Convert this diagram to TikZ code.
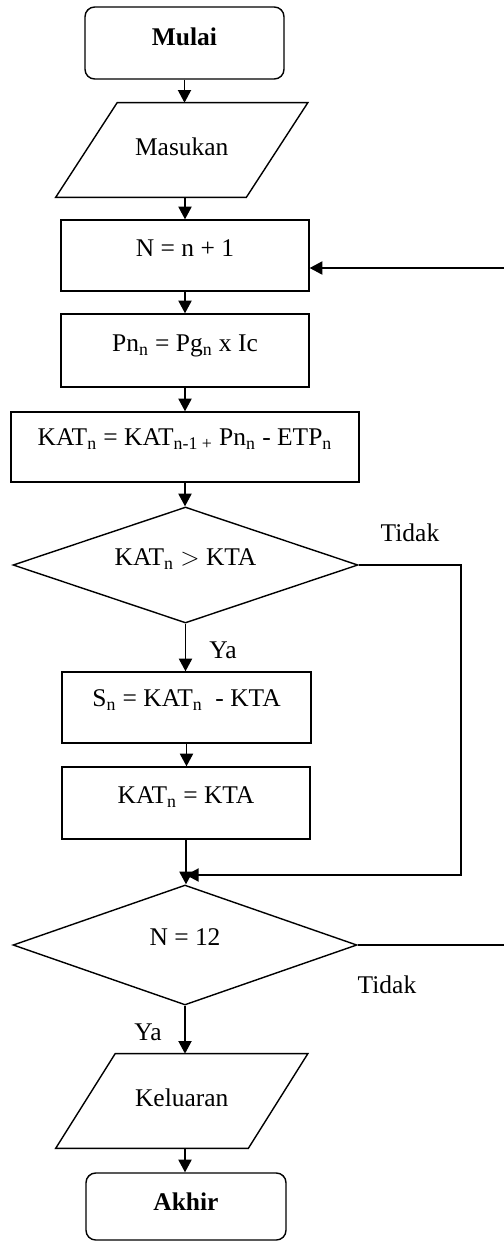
\documentclass[tikz,border=0pt]{standalone}
\usepackage{fontspec}
\setmainfont{Liberation Serif}
\usetikzlibrary{shapes.geometric,arrows.meta}
\begin{document}
\begin{tikzpicture}[x=0.02cm,y=-0.02cm,
  every node/.style={font=\fontsize{14.5}{17}\selectfont, text=black},
  ln/.style={line width=0.8pt, draw=black},
  arr/.style={ln, -{Triangle[length=7.2pt,width=7.5pt]}},
  sh/.style={text height=9pt, text depth=#1},
  procbox/.style={ln, rectangle, inner sep=0pt},
  term/.style={ln, rectangle, rounded corners=5.5pt, inner sep=0pt, font=\fontsize{14.5}{17}\selectfont\bfseries},
  io/.style={rectangle, inner sep=0pt},
  dec/.style={ln, diamond, aspect=3, inner sep=0pt},
  lab/.style={inner sep=0pt}
]
\useasboundingbox (0,0) rectangle (504,1242);
\clip (0,0) rectangle (504,1242);
\fill[white] (0,0) rectangle (504,1242);

\node[term, sh=6.2pt, minimum width=3.98cm, minimum height=1.44cm] (mulai) at (184.5,43) {Mulai};
\node[io, sh=2.8pt, minimum width=3.8cm, minimum height=1.88cm] (in) at (181.75,150) {Masukan};
\draw[ln] ([xshift=-0.615cm]in.south west) -- ([xshift=-0.615cm]in.south east)
  -- ([xshift=0.615cm]in.north east) -- ([xshift=0.615cm]in.north west) -- cycle;
\node[procbox, sh=7.9pt, minimum width=4.96cm, minimum height=1.42cm] (n1) at (185,255.5) {N = n + 1};
\node[procbox, sh=7.9pt, minimum width=4.96cm, minimum height=1.46cm] (pn) at (185,350.5) {Pn\textsubscript{n} = Pg\textsubscript{n} x Ic};
\node[procbox, sh=10.8pt, minimum width=6.96cm, minimum height=1.40cm] (kat) at (185,447) {KAT\textsubscript{n} = KAT\textsubscript{n-1 +} Pn\textsubscript{n} - ETP\textsubscript{n}};
\node[dec, sh=8.4pt, minimum width=6.9cm, minimum height=2.32cm] (d1) at (185.5,565) {KAT\textsubscript{n} {\fontsize{13.5}{15}\selectfont$>$} KTA};
\node[procbox, sh=10.2pt, minimum width=4.98cm, minimum height=1.42cm] (sn) at (186.5,707.5) {S\textsubscript{n} = KAT\textsubscript{n}\ \ - KTA};
\node[procbox, sh=8.4pt, minimum width=4.96cm, minimum height=1.44cm] (ska) at (186,803) {KAT\textsubscript{n} = KTA};
\node[dec, sh=7.9pt, minimum width=6.88cm, minimum height=2.4cm] (d2) at (185,945) {N = 12};
\node[io, sh=2.8pt, minimum width=3.84cm, minimum height=1.88cm] (out) at (181.75,1101) {Keluaran};
\draw[ln] ([xshift=-0.595cm]out.south west) -- ([xshift=-0.595cm]out.south east)
  -- ([xshift=0.595cm]out.north east) -- ([xshift=0.595cm]out.north west) -- cycle;
\node[term, sh=4.5pt, minimum width=4.0cm, minimum height=1.34cm] (akhir) at (186,1206.5) {Akhir};

\node[lab] (t1) at (410,533) {Tidak};
\node[lab] (y1) at (223,650) {Ya};
\node[lab] (t2) at (387,985) {Tidak};
\node[lab] (y2) at (148,1032) {Ya};

\draw[arr] (mulai.south) -- (mulai.south |- in.north);
\draw[arr] (n1.north |- in.south) -- (n1.north);
\draw[arr] (n1.south) -- (pn.north);
\draw[arr] (pn.south) -- (pn.south |- kat.north);
\draw[arr] (kat.south) -- (kat.south |- d1.north);
\draw[arr] (d1.south) -- (d1.south |- sn.north);
\draw[arr] (sn.south) -- (sn.south |- ska.north);
\draw[arr] (ska.south) -- (ska.south |- d2.north);
\draw[arr] (d2.south) -- (d2.south |- out.north);
\draw[arr] (d2.south |- out.south) -- (d2.south |- akhir.north);

\coordinate (j) at (ska.south |- 0,875);
\coordinate (c1) at (461,0);
\draw[arr] (d1.east) -| (c1 |- j) -- (j);

\coordinate (n1in) at (n1.east |- 0,268);
\coordinate (c2) at (515,0);
\draw[arr] (d2.east) -| (c2 |- n1in) -- (n1in);
\end{tikzpicture}
\end{document}
